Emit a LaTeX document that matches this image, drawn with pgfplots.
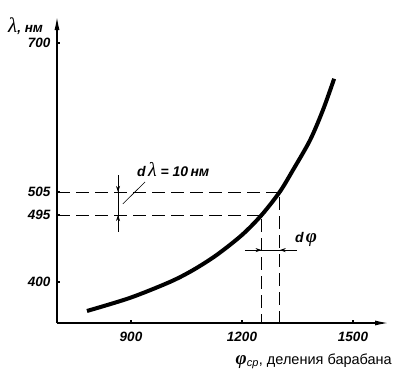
\documentclass[border=0pt]{standalone}
\usepackage{fontspec}
\setmainfont{Liberation Sans}
\newfontfamily\serifg{Liberation Serif}
\usepackage{pgfplots}
\pgfplotsset{compat=1.18}
\usetikzlibrary{arrows.meta}
\begin{document}
\begin{tikzpicture}[x=1pt,y=1pt]
\useasboundingbox (0,0) rectangle (417,384);
\begin{axis}[at={(57pt,61pt)}, anchor=south west, scale only axis,
  width=333pt, height=308pt,
  xmin=700, xmax=1600, ymin=348.5, ymax=735,
  axis lines=left,
  axis line style={line width=1.8pt, -{Latex[length=15pt,width=5pt]}},
  xtick={900,1200,1500}, xticklabels={900,1200,1500},
  ytick={400,484,513,700}, yticklabels={400,495,505,700},
  tick style={line width=2pt, black}, major tick length=3pt, tick align=inside,
  ticklabel style={font=\bfseries\itshape\fontsize{13.5}{15}\selectfont},
  xticklabel style={yshift=-6pt},
  yticklabel style={xshift=-3pt},
  /pgf/number format/assume math mode=true,
  clip=false]
\addplot [black, smooth, line width=4pt] coordinates {
 (781,363.6) (897,380) (1005,400) (1068,415) (1132,434) (1200,459)
 (1253,484) (1302,513) (1338,540.6) (1384,578) (1419,616) (1449,655)};
\draw[line width=0.8pt, dash pattern=on 13pt off 6pt] (axis cs:700,513) -- (axis cs:1302,513) -- (axis cs:1302,348.5);
\draw[line width=0.8pt, dash pattern=on 13pt off 6pt] (axis cs:700,484) -- (axis cs:1253,484) -- (axis cs:1253,348.5);
% d lambda
\draw[line width=0.7pt] (axis cs:865,534) -- (axis cs:865,463);
\draw[line width=0.7pt, -{Stealth[length=6pt,width=4pt]}] (axis cs:865,530) -- (axis cs:865,513);
\draw[line width=0.7pt, -{Stealth[length=6pt,width=4pt]}] (axis cs:865,467) -- (axis cs:865,484);
\draw[line width=0.6pt] (axis cs:878,498) -- (axis cs:938,525.5);
\node[anchor=base west, inner sep=0pt, font=\bfseries\itshape\fontsize{14}{16}\selectfont] at (axis cs:916,531.8) {d\,{\serifg\mdseries\fontsize{20}{20}\selectfont λ} = 10\,нм};
% d phi
\draw[line width=0.7pt] (axis cs:1208,440) -- (axis cs:1349,440);
\draw[line width=0.7pt, -{Stealth[length=6pt,width=4pt]}] (axis cs:1215,440) -- (axis cs:1253,440);
\draw[line width=0.7pt, -{Stealth[length=6pt,width=4pt]}] (axis cs:1342,440) -- (axis cs:1302,440);
\node[anchor=base west, inner sep=0pt, font=\bfseries\itshape\fontsize{14}{16}\selectfont] at (axis cs:1343,450) {d\,{\serifg\fontsize{19}{20}\selectfont φ}};
\end{axis}
\node[anchor=base west, inner sep=0pt, font=\bfseries\itshape\fontsize{13.5}{15}\selectfont] at (8,352) {{\serifg\mdseries\fontsize{21}{21}\selectfont λ}, нм};
\node[anchor=base east, inner sep=0pt, font=\fontsize{14.5}{16}\selectfont] at (392,20) {{\serifg\bfseries\itshape\fontsize{19}{20}\selectfont φ}\textsubscript{\itshape\fontsize{11}{12}\selectfont ср}, деления барабана};
\end{tikzpicture}
\end{document}
